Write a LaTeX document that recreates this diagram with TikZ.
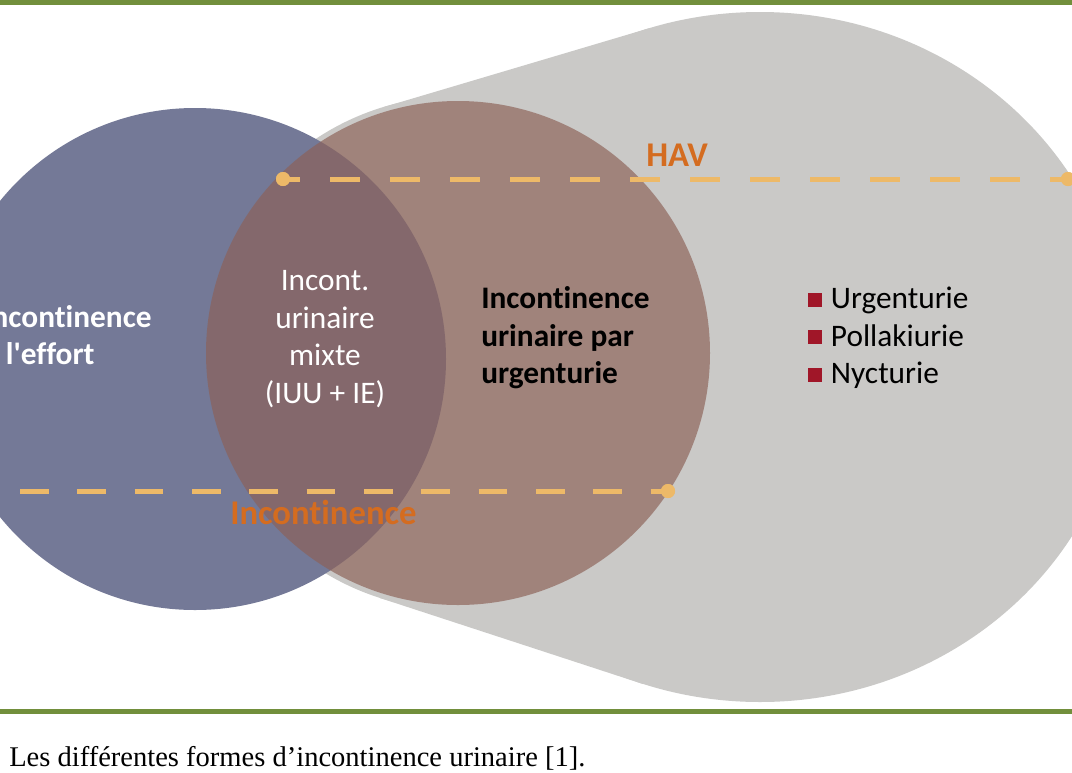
\documentclass[tikz,border=0pt]{standalone}
\usepackage{fontspec}
\setmainfont{Liberation Serif}
\newfontfamily\carlito[Ligatures=NoCommon]{Carlito}
\definecolor{graybg}{RGB}{202,201,199}
\definecolor{bluec}{RGB}{116,121,151}
\definecolor{brownc}{RGB}{140,97,87}
\definecolor{dashc}{RGB}{237,185,104}
\definecolor{orangec}{RGB}{212,108,32}
\definecolor{greenc}{RGB}{114,143,60}
\definecolor{sqc}{RGB}{160,22,40}
\tikzset{
  dotnode/.style={circle,fill=dashc,inner sep=0pt,minimum size=10.5pt},
  dashline/.style={draw=dashc,line width=3.75pt},
  bodytext/.style={font=\carlito\fontsize{23.5}{28.1}\selectfont,inner sep=0pt},
  boldtext/.style={font=\carlito\bfseries\fontsize{23.5}{28.1}\selectfont,inner sep=0pt},
  orangelabel/.style={font=\carlito\bfseries\fontsize{26}{31}\selectfont,text=orangec,inner sep=0pt},
  rule/.style={draw=greenc,line width=3.4pt}
}
\newcommand{\sqbullet}{\textcolor{sqc}{\raisebox{1.6pt}{\rule{10.5pt}{10.5pt}}}\hspace{6.5pt}}
\begin{document}
\begin{tikzpicture}[x=0.75pt,y=-0.75pt]
\useasboundingbox (0,0) rectangle (1072,772);
\fill[white] (0,0) rectangle (1072,772);
\begin{scope}
\clip (0,0) rectangle (1072,772);
% gray pear-shaped area
\fill[graybg] (760,357) ellipse [x radius=365, y radius=345];
\fill[graybg] (458,353) circle [radius=257];
\fill[graybg] (384,107) -- (650,28) -- (643,684) -- (380,598) -- cycle;
% blue circle
\fill[bluec] (195,359) circle [radius=251];
% brown circle
\fill[brownc,fill opacity=0.67] (458,353) circle [radius=252];
% texts
\node[boldtext,text=white,align=left,anchor=west] (effort) at (-17,335) {Incontinence\\à l'effort};
\node[bodytext,text=white,align=center] (mixte) at (325,339) {Incont.\\urinaire\\mixte\\(IUU + IE)};
\node[boldtext,text=black,align=left,anchor=west] (urge) at (481,338) {Incontinence\\urinaire par\\urgenturie};
\node[bodytext,text=black,align=left,anchor=west] (list) at (808,338) {\sqbullet Urgenturie\\\sqbullet Pollakiurie\\\sqbullet Nycturie};
% dashed lines
\node[dotnode] (h1) at (283,179) {};
\node[dotnode] (h2) at (1068,179) {};
\coordinate (i1) at (20,491);
\node[dotnode] (i2) at (668,491) {};
\draw[dashline,dash pattern=on 22.5pt off 22.5pt,dash phase=9.75pt] (h1.center) -- (h2.center);
\draw[dashline,dash pattern=on 21.5pt off 21.5pt] (i1) -- (i2.center);
\node[dotnode] at (h1) {};
\node[dotnode] at (h2) {};
\node[dotnode] at (i2) {};
\node[orangelabel,anchor=base west] (hav) at (646,166) {HAV};
\node[orangelabel,anchor=base west] (inc) at (230,524) {Incontinence};
\end{scope}
% green rules
\draw[rule] (0,2.5) -- (1072,2.5);
\draw[rule] (0,711.5) -- (1072,711.5);
\node[anchor=base west,inner sep=0pt,font=\fontsize{21.4}{25}\selectfont] (caption) at (9,766) {Les différentes formes d’incontinence urinaire [1].};
\end{tikzpicture}
\end{document}
